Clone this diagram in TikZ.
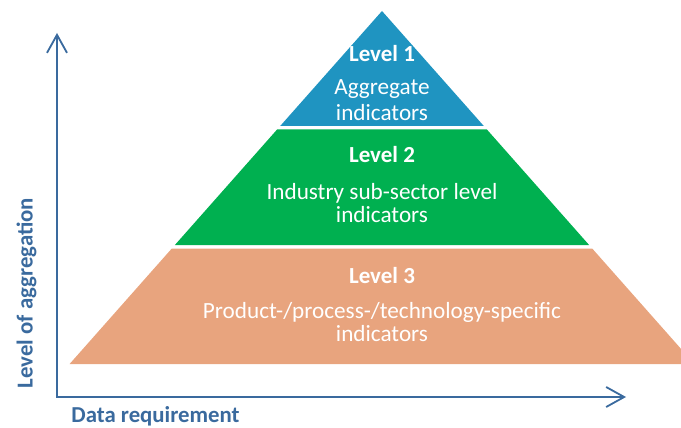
\documentclass[tikz,border=0pt]{standalone}
\usepackage{fontspec}
\setmainfont{Carlito}
\usepackage{tikz}
\usetikzlibrary{arrows.meta,positioning}
\definecolor{levelblue}{HTML}{1F94C1}
\definecolor{levelgreen}{HTML}{00B050}
\definecolor{levelsalmon}{HTML}{E8A47E}
\definecolor{axisblue}{HTML}{3A6A9E}
\tikzset{layer/.style={fill=#1, draw=none}}
\tikzset{title node/.style={anchor=base, inner sep=0pt, text=white,
    font=\fontsize{23}{24}\selectfont\bfseries}}
\tikzset{text node/.style={anchor=base, inner sep=0pt, text=white,
    font=\fontsize{23.2}{24}\selectfont}}
\tikzset{axis label/.style={anchor=base, inner sep=0pt, text=axisblue,
    font=\fontsize{22.8}{24}\selectfont\bfseries}}
\tikzset{axis edge/.style={draw=axisblue, line width=1.8pt,
    {Straight Barb[length=18pt,width=20pt,line width=1.8pt]}-{Straight Barb[length=18pt,width=20pt,line width=1.8pt]}}}

\begin{document}
\begin{tikzpicture}
      [x=1pt, y=-1pt]
      \path [use as bounding box, clip] (0,0) rectangle (681,428);

      % pyramid
      \fill [layer=levelblue]   (382,11) -- (483.8,126) -- (280.2,126) -- cycle;
      \fill [layer=levelgreen]  (277.1,129.5) -- (486.9,129.5) -- (589.1,245) -- (174.9,245) -- cycle;
      \fill [layer=levelsalmon] (171.8,248.5) -- (592.2,248.5) -- (694.4,364) -- (69.6,364) -- cycle;

      \node [title node] (lvl1)  at (382,61.5) {Level 1};
      \node [text node]  (lvl1a) at (382,95)   {Aggregate};
      \node [text node]  (lvl1b) at (382,121)  {indicators};

      \node [title node] (lvl2)  at (382,163)  {Level 2};
      \node [text node]  (lvl2a) at (382,199)  {Industry sub-sector level};
      \node [text node]  (lvl2b) at (382,222)  {indicators};

      \node [title node] (lvl3)  at (382,283)  {Level 3};
      \node [text node]  (lvl3a) at (382,318)  {Product-/process-/technology-specific};
      \node [text node]  (lvl3b) at (382,341.5) {indicators};

      % axes
      \coordinate (ytop)   at (57,33);
      \coordinate (origin) at (57,397);
      \coordinate (xend)   at (626,397);
      \draw [axis edge] (ytop) -- (origin) -- (xend);

      \node [axis label, rotate=90] (ylabel) at (32.5,293) {Level of aggregation};
      \node [axis label]            (xlabel) at (155.5,422.5) {Data requirement};
    \end{tikzpicture}
\end{document}
